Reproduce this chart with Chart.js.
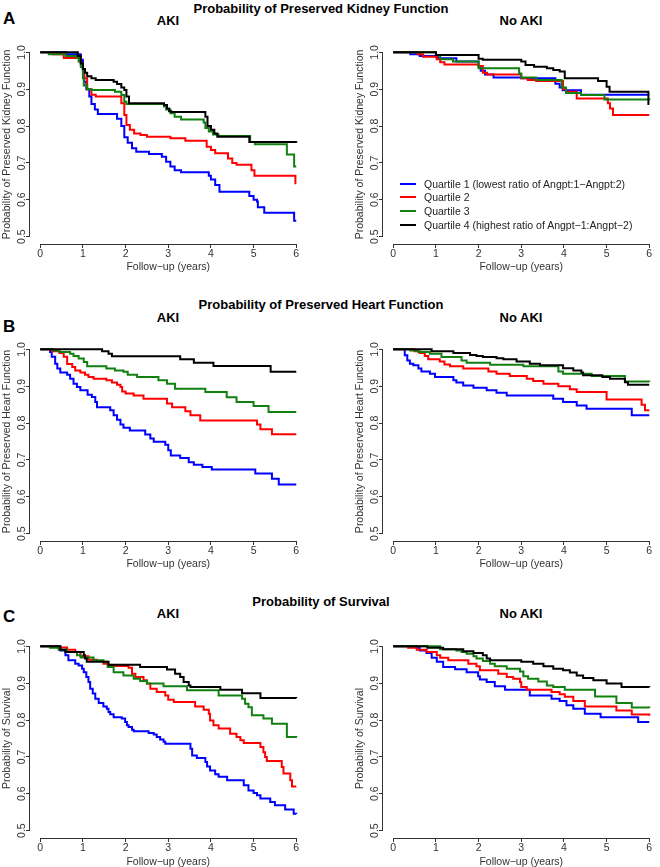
<!DOCTYPE html>
<html>
<head>
<meta charset="utf-8">
<script src="https://cdn.jsdelivr.net/npm/chart.js@4/dist/chart.umd.min.js"></script>
<style>
  html, body { margin:0; padding:0; background:#fff; width:660px; height:867px; overflow:hidden; }
  body { position:relative; font-family:'Liberation Sans', Arial, Helvetica, sans-serif; color:#000; }
  canvas { position:absolute; }
  .t { position:absolute; white-space:nowrap; line-height:1; transform:translate(-50%,-50%); font-weight:bold; }
  .hdr { font-size:13px; }
  .sub { font-size:13px; }
  .let { font-size:17px; transform:translate(0,-50%); }
  #legend { position:absolute; left:400px; top:177px; font-size:10.5px; color:#222; }
  #legend .row { height:13.6px; display:flex; align-items:center; white-space:nowrap; }
  #legend .sw { width:16px; height:2px; margin-right:8px; }
</style>
</head>
<body>
<div class="t hdr" style="left:321px;top:8px">Probability of Preserved Kidney Function</div>
<div class="t let" style="left:3px;top:18px">A</div>
<div class="t sub" style="left:168px;top:20px">AKI</div>
<div class="t sub" style="left:521px;top:20px">No AKI</div>

<div class="t hdr" style="left:321px;top:304px">Probability of Preserved Heart Function</div>
<div class="t let" style="left:3px;top:326px">B</div>
<div class="t sub" style="left:168px;top:317px">AKI</div>
<div class="t sub" style="left:521px;top:317px">No AKI</div>

<div class="t hdr" style="left:321px;top:601px">Probability of Survival</div>
<div class="t let" style="left:3px;top:616px">C</div>
<div class="t sub" style="left:168px;top:613px">AKI</div>
<div class="t sub" style="left:521px;top:613px">No AKI</div>

<canvas id="cA1" width="310" height="238" style="left:0px;top:35px"></canvas>
<canvas id="cA2" width="307" height="238" style="left:353px;top:35px"></canvas>
<canvas id="cB1" width="310" height="238" style="left:0px;top:332px"></canvas>
<canvas id="cB2" width="307" height="238" style="left:353px;top:332px"></canvas>
<canvas id="cC1" width="310" height="239" style="left:0px;top:629px"></canvas>
<canvas id="cC2" width="307" height="239" style="left:353px;top:629px"></canvas>
<div id="legend"></div>

<script>
// ---------- tick labels / categories ----------
const xTicks = [0, 1, 2, 3, 4, 5, 6];
const yTicks = [0.5, 0.6, 0.7, 0.8, 0.9, 1.0];
const xTitle = 'Follow\u2212up (years)';
const quartileLabels = [
  'Quartile 1 (lowest ratio of Angpt:1\u2212Angpt:2)',
  'Quartile 2',
  'Quartile 3',
  'Quartile 4 (highest ratio of Angpt\u22121:Angpt\u22122)'
];
const quartileColors = ['#0000FF', '#FF0000', '#118011', '#000000'];

// ---------- Kidney function, AKI ----------
const kidneyAkiQ1 = [[0,1],[0.6,0.995],[0.95,0.98],[1.0,0.95],[1.03,0.92],[1.08,0.9],[1.15,0.88],[1.2,0.86],[1.28,0.845],[1.35,0.833],[1.8,0.82],[1.9,0.80],[1.97,0.77],[2.05,0.755],[2.15,0.74],[2.25,0.73],[2.55,0.724],[2.85,0.717],[2.95,0.703],[3.05,0.69],[3.15,0.68],[3.3,0.675],[3.95,0.665],[4.0,0.655],[4.1,0.64],[4.2,0.622],[4.9,0.61],[5.0,0.6],[5.08,0.595],[5.1,0.58],[5.25,0.565],[5.95,0.543],[6,0.543]];
const kidneyAkiQ2 = [[0,1],[0.3,0.995],[0.55,0.985],[0.95,0.97],[1.0,0.955],[1.03,0.93],[1.1,0.9],[1.2,0.885],[1.3,0.88],[1.9,0.862],[1.97,0.83],[2.02,0.803],[2.1,0.79],[2.2,0.78],[2.35,0.776],[2.5,0.771],[3.05,0.767],[3.4,0.76],[3.9,0.744],[4.0,0.735],[4.1,0.726],[4.4,0.712],[4.5,0.7],[4.6,0.695],[4.95,0.68],[5.02,0.665],[5.98,0.645],[6,0.645]];
const kidneyAkiQ3 = [[0,1],[0.2,0.995],[0.6,0.99],[0.85,0.985],[0.9,0.975],[0.95,0.96],[1.0,0.93],[1.02,0.91],[1.1,0.9],[1.2,0.898],[1.75,0.893],[1.9,0.884],[1.97,0.866],[2.02,0.86],[2.9,0.853],[2.95,0.845],[3.05,0.835],[3.15,0.825],[3.3,0.818],[3.83,0.81],[3.87,0.795],[3.95,0.785],[4.05,0.777],[4.18,0.773],[4.92,0.757],[5.03,0.751],[5.78,0.723],[5.95,0.69],[6,0.69]];
const kidneyAkiQ4 = [[0,1],[0.88,0.99],[0.95,0.97],[1.0,0.955],[1.05,0.945],[1.1,0.935],[1.2,0.93],[1.3,0.925],[1.72,0.92],[1.8,0.914],[1.9,0.905],[1.97,0.898],[2.02,0.88],[2.08,0.862],[2.9,0.857],[2.97,0.848],[3.02,0.84],[3.07,0.838],[3.87,0.825],[3.92,0.8],[4.0,0.79],[4.08,0.78],[4.15,0.771],[4.9,0.757],[6,0.755]];

// ---------- Kidney function, No AKI ----------
const kidneyNoAkiQ1 = [[0,1],[0.4,0.995],[0.62,0.99],[1.0,0.987],[1.05,0.984],[1.48,0.975],[2.0,0.962],[2.05,0.95],[2.15,0.94],[2.35,0.932],[3.0,0.93],[3.8,0.915],[3.9,0.905],[3.97,0.897],[4.4,0.885],[6,0.885]];
const kidneyNoAkiQ2 = [[0,1],[0.58,0.995],[0.7,0.988],[1.02,0.981],[1.1,0.973],[1.2,0.967],[2.0,0.963],[2.1,0.945],[2.2,0.94],[3.0,0.93],[3.15,0.925],[3.35,0.922],[3.98,0.9],[4.05,0.893],[4.3,0.875],[5.03,0.862],[5.08,0.848],[5.15,0.83],[6,0.83]];
const kidneyNoAkiQ3 = [[0,1],[1.0,0.993],[1.1,0.981],[1.4,0.975],[2.0,0.957],[2.95,0.943],[3.0,0.932],[3.35,0.925],[3.95,0.905],[4.05,0.89],[4.4,0.884],[4.95,0.872],[6,0.87]];
const kidneyNoAkiQ4 = [[0,1],[1.0,0.993],[2.0,0.983],[2.1,0.98],[3.0,0.975],[3.1,0.966],[3.3,0.961],[3.6,0.957],[3.75,0.952],[3.9,0.948],[4.02,0.93],[4.8,0.922],[5.0,0.907],[5.07,0.893],[5.98,0.86],[6,0.86]];

// ---------- Heart function, AKI ----------
const heartAkiQ1 = [[0,1],[0.23,0.993],[0.27,0.98],[0.35,0.961],[0.4,0.948],[0.47,0.937],[0.63,0.931],[0.7,0.92],[0.78,0.907],[0.86,0.898],[0.94,0.889],[1.11,0.877],[1.21,0.871],[1.29,0.857],[1.33,0.843],[1.64,0.835],[1.72,0.821],[1.8,0.809],[1.88,0.796],[1.95,0.787],[2.1,0.78],[2.46,0.769],[2.58,0.758],[2.66,0.749],[2.93,0.741],[3.0,0.726],[3.06,0.712],[3.28,0.705],[3.48,0.694],[3.6,0.687],[3.8,0.681],[4.02,0.674],[5.04,0.663],[5.43,0.649],[5.59,0.633],[6,0.633]];
const heartAkiQ2 = [[0,1],[0.27,0.995],[0.45,0.99],[0.55,0.98],[0.63,0.96],[0.75,0.952],[0.82,0.943],[0.94,0.937],[1.05,0.931],[1.13,0.925],[1.25,0.92],[1.55,0.916],[1.68,0.91],[1.8,0.904],[1.88,0.898],[1.92,0.886],[2.0,0.88],[2.19,0.875],[2.42,0.866],[2.97,0.853],[3.09,0.843],[3.4,0.832],[3.52,0.821],[3.75,0.807],[5.08,0.796],[5.16,0.783],[5.43,0.77],[6,0.77]];
const heartAkiQ3 = [[0,1],[0.3,0.997],[0.45,0.993],[0.7,0.988],[0.78,0.982],[0.9,0.975],[1.02,0.966],[1.1,0.954],[1.55,0.948],[1.75,0.943],[1.95,0.939],[2.05,0.931],[2.27,0.925],[2.77,0.916],[2.97,0.907],[3.16,0.893],[3.87,0.884],[4.37,0.87],[4.6,0.857],[5.0,0.846],[5.35,0.83],[6,0.83]];
const heartAkiQ4 = [[0,1],[1.45,0.995],[1.6,0.988],[1.68,0.981],[3.28,0.973],[3.6,0.964],[4.06,0.955],[5.4,0.939],[6,0.939]];

// ---------- Heart function, No AKI ----------
const heartNoAkiQ1 = [[0,1],[0.27,0.984],[0.33,0.97],[0.39,0.961],[0.47,0.957],[0.59,0.948],[0.66,0.94],[0.86,0.934],[0.98,0.925],[1.41,0.916],[1.48,0.91],[1.64,0.902],[1.88,0.896],[2.19,0.889],[2.42,0.882],[2.66,0.875],[3.75,0.866],[3.98,0.857],[4.3,0.848],[4.53,0.839],[5.59,0.821],[6,0.821]];
const heartNoAkiQ2 = [[0,1],[0.5,0.995],[0.62,0.99],[0.74,0.982],[0.82,0.973],[1.09,0.967],[1.2,0.959],[1.33,0.954],[1.64,0.948],[2.23,0.94],[2.42,0.934],[2.73,0.928],[3.13,0.92],[3.28,0.914],[3.52,0.907],[3.87,0.9],[4.14,0.892],[4.3,0.884],[5.0,0.864],[5.82,0.85],[5.9,0.835],[6,0.835]];
const heartNoAkiQ3 = [[0,1],[0.4,0.997],[0.59,0.993],[0.86,0.988],[1.13,0.979],[1.6,0.97],[1.72,0.964],[2.27,0.958],[3.05,0.954],[3.87,0.94],[3.98,0.934],[4.65,0.928],[5.43,0.913],[6,0.912]];
const heartNoAkiQ4 = [[0,1],[0.9,0.995],[1.41,0.99],[1.8,0.985],[1.95,0.982],[2.1,0.979],[2.42,0.976],[2.58,0.973],[2.89,0.967],[3.2,0.961],[3.44,0.957],[3.98,0.949],[4.22,0.943],[4.41,0.937],[4.45,0.93],[4.9,0.925],[5.08,0.92],[5.43,0.911],[5.5,0.904],[6,0.904]];

// ---------- Survival, AKI ----------
const survivalAkiQ1 = [[0,1],[0.47,0.989],[0.59,0.976],[0.66,0.962],[0.82,0.953],[0.9,0.948],[0.98,0.939],[1.02,0.93],[1.08,0.917],[1.13,0.903],[1.17,0.885],[1.23,0.872],[1.29,0.858],[1.37,0.846],[1.48,0.837],[1.56,0.831],[1.6,0.822],[1.64,0.816],[1.72,0.808],[1.91,0.804],[1.99,0.795],[2.03,0.786],[2.07,0.781],[2.15,0.774],[2.19,0.77],[2.54,0.765],[2.66,0.761],[2.73,0.754],[2.81,0.747],[2.89,0.741],[2.93,0.736],[3.52,0.722],[3.56,0.704],[3.67,0.697],[3.87,0.686],[3.91,0.674],[3.98,0.663],[4.1,0.653],[4.18,0.646],[4.38,0.637],[4.77,0.623],[4.88,0.609],[5.0,0.602],[5.08,0.596],[5.16,0.587],[5.39,0.578],[5.5,0.569],[5.74,0.557],[5.94,0.546],[6,0.545]];
const survivalAkiQ2 = [[0,1],[0.4,0.997],[0.63,0.991],[0.82,0.985],[0.94,0.973],[1.13,0.964],[1.33,0.96],[1.48,0.953],[1.6,0.947],[2.07,0.942],[2.15,0.926],[2.23,0.917],[2.42,0.908],[2.5,0.899],[2.58,0.885],[2.73,0.876],[2.93,0.867],[3.0,0.855],[3.13,0.849],[3.63,0.837],[3.83,0.828],[3.95,0.817],[3.98,0.799],[4.06,0.786],[4.18,0.777],[4.45,0.763],[4.6,0.754],[4.69,0.745],[4.77,0.738],[5.16,0.727],[5.23,0.713],[5.27,0.7],[5.31,0.689],[5.66,0.673],[5.7,0.655],[5.86,0.637],[5.9,0.62],[6,0.62]];
const survivalAkiQ3 = [[0,1],[0.23,0.996],[0.43,0.991],[0.63,0.985],[0.86,0.976],[0.95,0.97],[1.25,0.962],[1.48,0.958],[1.58,0.944],[1.72,0.93],[1.95,0.921],[2.19,0.912],[2.34,0.906],[2.5,0.899],[2.89,0.892],[3.44,0.881],[4.18,0.867],[4.73,0.858],[4.8,0.844],[4.88,0.835],[4.96,0.813],[5.23,0.804],[5.43,0.79],[5.78,0.754],[6,0.752]];
const survivalAkiQ4 = [[0,1],[0.47,0.991],[0.59,0.985],[1.02,0.976],[1.05,0.967],[1.09,0.958],[1.6,0.95],[2.34,0.944],[2.97,0.937],[3.16,0.926],[3.28,0.917],[3.36,0.903],[3.48,0.894],[3.52,0.89],[4.22,0.882],[4.73,0.873],[5.16,0.86],[6,0.859]];

// ---------- Survival, No AKI ----------
const survivalNoAkiQ1 = [[0,1],[0.55,0.996],[0.62,0.989],[0.78,0.982],[0.9,0.969],[1.02,0.958],[1.17,0.944],[1.45,0.938],[1.72,0.93],[1.99,0.919],[2.03,0.91],[2.19,0.903],[2.38,0.892],[2.62,0.882],[3.2,0.867],[3.71,0.858],[3.9,0.852],[4.06,0.84],[4.22,0.831],[4.49,0.817],[4.86,0.808],[5.74,0.795],[6,0.795]];
const survivalNoAkiQ2 = [[0,1],[0.35,0.996],[0.55,0.991],[0.78,0.985],[1.02,0.976],[1.1,0.969],[1.29,0.962],[1.76,0.953],[1.95,0.946],[2.03,0.935],[2.46,0.926],[2.66,0.917],[2.81,0.912],[2.97,0.903],[3.0,0.89],[3.13,0.882],[3.71,0.876],[3.9,0.87],[4.02,0.863],[4.22,0.852],[4.49,0.837],[5.23,0.826],[5.59,0.815],[6,0.812]];
const survivalNoAkiQ3 = [[0,1],[1.1,0.992],[1.48,0.989],[1.6,0.985],[1.72,0.98],[1.88,0.973],[1.95,0.967],[2.1,0.96],[2.27,0.953],[2.38,0.946],[2.66,0.939],[2.97,0.932],[3.05,0.919],[3.16,0.912],[3.4,0.905],[3.6,0.894],[3.75,0.89],[4.02,0.882],[4.73,0.864],[5.23,0.846],[5.59,0.834],[6,0.833]];
const survivalNoAkiQ4 = [[0,1],[0.8,0.996],[1.17,0.992],[1.64,0.987],[1.88,0.982],[2.1,0.976],[2.19,0.967],[2.27,0.962],[3.0,0.958],[3.28,0.953],[3.52,0.946],[3.75,0.939],[3.98,0.935],[4.14,0.929],[4.3,0.921],[4.45,0.914],[4.69,0.908],[5.0,0.899],[5.35,0.89],[6,0.889]];

// ---------- panels ----------
const panels = [
  { id:'cA1', yTitle:'Probability of Preserved Kidney Function', series:[kidneyAkiQ1, kidneyAkiQ2, kidneyAkiQ3, kidneyAkiQ4], right:3.5, xH:29 },
  { id:'cA2', yTitle:'Probability of Preserved Kidney Function', series:[kidneyNoAkiQ1, kidneyNoAkiQ2, kidneyNoAkiQ3, kidneyNoAkiQ4], right:0.5, xH:29 },
  { id:'cB1', yTitle:'Probability of Preserved Heart Function', series:[heartAkiQ1, heartAkiQ2, heartAkiQ3, heartAkiQ4], right:3.5, xH:29 },
  { id:'cB2', yTitle:'Probability of Preserved Heart Function', series:[heartNoAkiQ1, heartNoAkiQ2, heartNoAkiQ3, heartNoAkiQ4], right:0.5, xH:29 },
  { id:'cC1', yTitle:'Probability of Survival', series:[survivalAkiQ1, survivalAkiQ2, survivalAkiQ3, survivalAkiQ4], right:3.5, xH:30 },
  { id:'cC2', yTitle:'Probability of Survival', series:[survivalNoAkiQ1, survivalNoAkiQ2, survivalNoAkiQ3, survivalNoAkiQ4], right:0.5, xH:30 }
];

Chart.defaults.font.family = "'Liberation Sans', Arial, Helvetica, sans-serif";
const axisColor = '#333';
const labelFont = { size: 10.5, lineHeight: 1.2 };

const rAxes = {
  id: 'rAxes',
  afterDraw(chart) {
    const { ctx, chartArea, scales: { x, y } } = chart;
    ctx.save();
    ctx.strokeStyle = axisColor;
    ctx.lineWidth = 1;
    ctx.beginPath();
    const yb = Math.round(chartArea.bottom) + 0.5;
    ctx.moveTo(x.getPixelForValue(xTicks[0]), yb);
    ctx.lineTo(x.getPixelForValue(xTicks[xTicks.length - 1]), yb);
    const xl = Math.round(chartArea.left) - 0.5;
    ctx.moveTo(xl, y.getPixelForValue(yTicks[0]));
    ctx.lineTo(xl, y.getPixelForValue(yTicks[yTicks.length - 1]));
    ctx.stroke();
    ctx.restore();
  }
};

panels.forEach(p => {
  new Chart(document.getElementById(p.id), {
    type: 'line',
    data: {
      datasets: p.series.map((s, i) => ({
        label: quartileLabels[i],
        data: s.map(([t, v]) => ({ x: t, y: v })),
        borderColor: quartileColors[i],
        backgroundColor: quartileColors[i],
        borderWidth: 2,
        pointRadius: 0,
        stepped: true,
        fill: false,
        order: 4 - i
      }))
    },
    options: {
      responsive: false,
      animation: false,
      events: [],
      layout: { padding: { top: 10, right: p.right, left: 0, bottom: 0 } },
      plugins: { legend: { display: false }, tooltip: { enabled: false }, title: { display: false } },
      scales: {
        x: {
          type: 'linear', min: -0.24, max: 6.24,
          afterBuildTicks: s => { s.ticks = xTicks.map(v => ({ value: v })); },
          afterFit: s => { s.height = p.xH; s.paddingLeft = 0; s.paddingRight = 0; },
          grid: { drawOnChartArea: false, drawTicks: true, tickLength: 4, color: axisColor, lineWidth: 1 },
          border: { display: false },
          ticks: { padding: 0, color: axisColor, font: labelFont, autoSkip: false, maxRotation: 0, callback: v => String(v) },
          title: { display: true, text: xTitle, padding: 0, color: axisColor, font: labelFont }
        },
        y: {
          type: 'linear', min: 0.48, max: 1.02,
          afterBuildTicks: s => { s.ticks = yTicks.map(v => ({ value: v })); },
          afterFit: s => { s.width = 30; s.paddingTop = 0; s.paddingBottom = 0; },
          grid: { drawOnChartArea: false, drawTicks: true, tickLength: 4, color: axisColor, lineWidth: 1 },
          border: { display: false },
          ticks: { padding: -3, color: axisColor, font: labelFont, autoSkip: false, minRotation: 90, maxRotation: 90, crossAlign: 'center', callback: v => Number(v).toFixed(1) },
          title: { display: true, text: p.yTitle, padding: { top: 1, bottom: 0 }, color: axisColor, font: labelFont }
        }
      }
    },
    plugins: [rAxes]
  });
});

// legend (inside the upper-right panel)
const legendEl = document.getElementById('legend');
quartileLabels.forEach((lab, i) => {
  const row = document.createElement('div');
  row.className = 'row';
  const sw = document.createElement('span');
  sw.className = 'sw';
  sw.style.background = quartileColors[i];
  const tx = document.createElement('span');
  tx.textContent = lab;
  row.appendChild(sw); row.appendChild(tx);
  legendEl.appendChild(row);
});
</script>
</body>
</html>
